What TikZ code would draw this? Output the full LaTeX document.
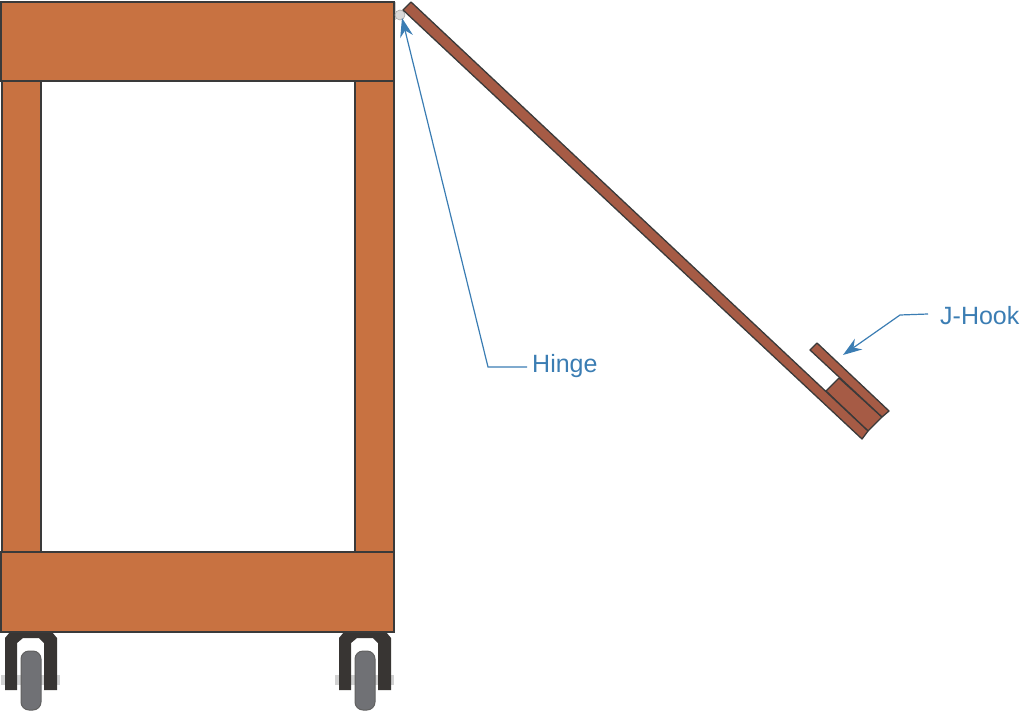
\documentclass[tikz,border=0pt]{standalone}
\usepackage{fontspec}
\setmainfont{Liberation Sans}
\usetikzlibrary{arrows.meta}
\definecolor{woodbody}{HTML}{C87241}
\definecolor{woodlid}{HTML}{A65B45}
\definecolor{edgeline}{HTML}{3A3A3A}
\definecolor{forkdark}{HTML}{383533}
\definecolor{wheelgrey}{HTML}{707175}
\definecolor{labelblue}{HTML}{3B7DB3}
\tikzset{
    bodypart/.style={draw=edgeline,fill=woodbody,line width=1.3pt},
    lidpart/.style={draw=edgeline,fill=woodlid,line width=1.3pt,line join=round},
    calllabel/.style={text=labelblue,font=\fontsize{25}{28}\selectfont,inner sep=0pt},
    callline/.style={draw=labelblue,line width=1.2pt,-{Stealth[length=19pt,width=13pt]}},
}
\begin{document}
\begin{tikzpicture}[x=1pt,y=-1pt]
    \useasboundingbox (0,0) rectangle (1024,711);
    \foreach \cx in {0,334} {
        \begin{scope}[xshift=\cx pt]
            \fill[gray!35] (1,675) rectangle (60,685);
            \fill[forkdark] (10,632) -- (52,632) -- (57,638) -- (57,690) -- (44,690) -- (44,643) -- (39,638)
                -- (23,638) -- (17,643) -- (17,690) -- (5,690) -- (5,638) -- cycle;
            \draw[draw=edgeline!80,fill=wheelgrey,line width=1pt,rounded corners=8pt] (21,651) rectangle (41,710);
        \end{scope}
    }
    \draw[bodypart] (1,2) rectangle (394,81);
    \draw[bodypart] (2,81) rectangle (41,552);
    \draw[bodypart] (355,81) rectangle (394,552);
    \draw[bodypart] (1,552) rectangle (394,632);
    \fill[gray!40] (394.5,2) rectangle (396,20);
    \node[circle,draw=gray!70,fill=gray!30,line width=0.6pt,minimum size=10pt,inner sep=0pt] (hinge) at (400,15) {};
    \draw[lidpart] (839,378) -- (882,417) -- (868,431) -- (826,391) -- cycle;
    \draw[lidpart] (411,2) -- (868,431) -- (862,439) -- (403,10) -- cycle;
    \draw[lidpart] (810,350) -- (817,343) -- (889,411) -- (882,417) -- cycle;
    \node[calllabel,anchor=west] (hingelabel) at (532,366) {Hinge};
    \node[calllabel,anchor=west] (hooklabel) at (940,316) {J-Hook};
    \coordinate (hingetip) at (402,18);
    \coordinate (hooktip) at (843,355);
    \draw[callline] (hingelabel.west) ++(-5,1) -- (488,367) -- (hingetip);
    \draw[callline] (hooklabel.west) ++(-12,-2) -- (900,315) -- (hooktip);
\end{tikzpicture}
\end{document}
